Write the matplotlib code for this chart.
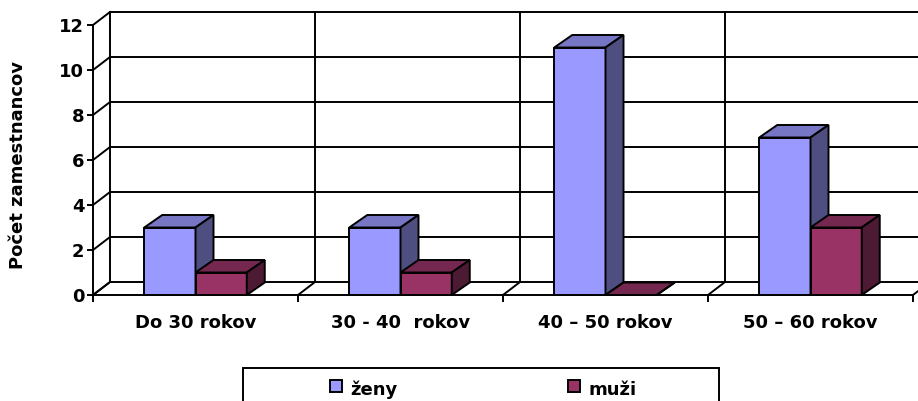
import matplotlib.pyplot as plt
from matplotlib.patches import Rectangle, Polygon

# data
categories = ['Do 30 rokov', '30 - 40  rokov', '40 – 50 rokov', '50 – 60 rokov']
series_names = ['ženy', 'muži']
zeny = [3, 3, 11, 7]
muzi = [1, 1, 0, 3]
yticks = [0, 2, 4, 6, 8, 10, 12]

# front / top / side colours of the 3D columns
colors = {
    'ženy': ('#9999FF', '#7676C4', '#4E4E80'),
    'muži': ('#993366', '#74274F', '#4D1A33'),
}

plt.rcParams['font.family'] = ['DejaVu Sans']
plt.rcParams['font.weight'] = 'bold'
plt.rcParams['font.size'] = 13

W, H = 918, 401
fig = plt.figure(figsize=(W / 100, H / 100), dpi=100)

# front plane of the chart in pixels
px_left, px_right, px_bottom, px_top = 93, 913, 295, 25
ax = fig.add_axes([px_left / W, (H - px_bottom) / H,
                   (px_right - px_left) / W, (px_bottom - px_top) / H])
ax.set_xlim(0, len(categories))
ax.set_ylim(0, 12)
ax.patch.set_visible(False)

ux = (px_right - px_left) / len(categories)
uy = (px_bottom - px_top) / 12
# depth offsets (walls and columns), in data units
wdx, wdy = 17 / ux, 13 / uy
bdx, bdy = 18 / ux, 12.5 / uy

lw = 1.4
n = len(categories)

# back wall grid, left wall and floor lines
for v in yticks:
    ax.plot([wdx, n + wdx], [v + wdy, v + wdy], color='black', lw=lw,
            clip_on=False, zorder=1, solid_capstyle='butt')
    ax.plot([0, wdx], [v, v + wdy], color='black', lw=lw, clip_on=False, zorder=1)
for i in range(n + 1):
    ax.plot([i + wdx, i + wdx], [wdy, 12 + wdy], color='black', lw=lw,
            clip_on=False, zorder=1)
    ax.plot([i, i + wdx], [0, wdy], color='black', lw=lw, clip_on=False, zorder=1)


def column(x0, w, h, name, z):
    front, top, side = colors[name]
    x1 = x0 + w
    ax.add_patch(Rectangle((x0, 0), w, h, facecolor=front, edgecolor='black',
                           lw=lw, clip_on=False, zorder=z))
    ax.add_patch(Polygon([(x0, h), (x1, h), (x1 + bdx, h + bdy), (x0 + bdx, h + bdy)],
                         closed=True, facecolor=top, edgecolor='black', lw=lw,
                         clip_on=False, zorder=z, joinstyle='miter'))
    ax.add_patch(Polygon([(x1, 0), (x1 + bdx, bdy), (x1 + bdx, h + bdy), (x1, h)],
                         closed=True, facecolor=side, edgecolor='black', lw=lw,
                         clip_on=False, zorder=z, joinstyle='miter'))


bw = 0.25
z = 3
for i in range(n):
    column(i + 0.25, bw, zeny[i], 'ženy', z)
    column(i + 0.5, bw, muzi[i], 'muži', z + 0.1)
    z += 1

# axes, ticks
for s in ['top', 'right']:
    ax.spines[s].set_visible(False)
for s in ['left', 'bottom']:
    ax.spines[s].set_linewidth(lw)
    ax.spines[s].set_zorder(2)
ax.set_yticks(yticks)
ax.tick_params(axis='y', direction='out', length=4.3, width=lw, pad=2, labelsize=13)
ax.set_xticks(range(n + 1))
ax.set_xticklabels([])
ax.tick_params(axis='x', direction='out', length=5, width=lw)

for i, lab in enumerate(categories):
    ax.text(i + 0.5, -(328 - px_bottom) / uy, lab, ha='center', va='baseline',
            fontsize=13, fontweight='bold', clip_on=False)

fig.text(18 / W, (H - 165) / H, 'Počet zamestnancov', rotation=90,
         ha='center', va='center', fontsize=13, fontweight='bold')

# legend
fig.patches.append(Rectangle((243 / W, (H - 410) / H), 476 / W, 42 / H,
                             transform=fig.transFigure, facecolor='white',
                             edgecolor='black', lw=lw))
for name, sx in zip(series_names, [330, 568]):
    fig.patches.append(Rectangle((sx / W, (H - 392) / H), 12 / W, 12 / H,
                                 transform=fig.transFigure, facecolor=colors[name][0],
                                 edgecolor='black', lw=lw))
    fig.text((sx + 20) / W, (H - 395) / H, name, ha='left', va='baseline',
             fontsize=13, fontweight='bold')

fig.savefig('out.png', dpi=100)
